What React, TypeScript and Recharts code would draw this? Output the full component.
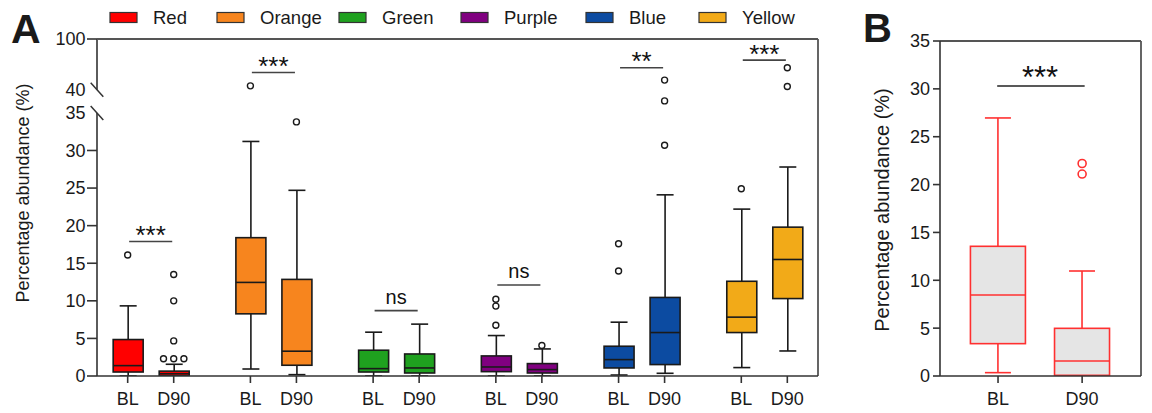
import React from "react";
import { Bar, ComposedChart, ReferenceLine, Scatter, XAxis, YAxis } from "recharts";

const CATEGORIES = ["Red", "Orange", "Green", "Purple", "Blue", "Yellow"];
const COLORS = ["#ff0000", "#f7851e", "#1fa11f", "#800080", "#0c4ba1", "#f2aa18"];
const TIMEPOINTS = ["BL", "D90"];

// five-number summaries [min, q1, median, q3, max]; first BL, then D90
const redStats = [[0, 0.53, 1.38, 4.85, 9.33], [0, 0.05, 0.3, 0.65, 1.56]];
const orangeStats = [[0.93, 8.27, 12.45, 18.4, 31.2], [0.18, 1.43, 3.3, 12.85, 24.7]];
const greenStats = [[0, 0.53, 0.98, 3.43, 5.83], [0, 0.4, 1.07, 2.93, 6.9]];
const purpleStats = [[0, 0.58, 1.2, 2.67, 5.38], [0, 0.4, 0.85, 1.65, 3.6]];
const blueStats = [[0.13, 1.07, 2.18, 3.96, 7.16], [0.36, 1.52, 5.78, 10.45, 24.1]];
const yellowStats = [[1.12, 5.78, 7.83, 12.6, 22.2], [3.33, 10.3, 15.5, 19.8, 27.8]];
const STATS_A = [redStats, orangeStats, greenStats, purpleStats, blueStats, yellowStats];

// outliers [value, spread]; spread is the sideways nudge Prism gives tied points
const redOut = [[[16.1, 0]], [[13.5, 0], [10, 0], [4.67, 0], [2.3, -0.083], [2.3, 0], [2.3, 0.083]]];
const orangeOut = [[[44.7, 0]], [[33.8, 0]]];
const greenOut = [[], []];
const purpleOut = [[[10.2, 0], [9.3, 0], [6.76, 0]], [[4.05, 0]]];
const blueOut = [[[17.6, 0], [13.96, 0]], [[51.5, 0], [37.6, 0], [30.7, 0]]];
const yellowOut = [[[24.9, 0]], [[66, 0], [43.9, 0]]];
const OUT_A = [redOut, orangeOut, greenOut, purpleOut, blueOut, yellowOut];

const SIG_A = ["***", "***", "ns", "ns", "**", "***"];
const SIG_A_Y = [17.9, 60.5, 8.7, 12.1, 66, 75.1];
const Y_TICKS_A = [0, 5, 10, 15, 20, 25, 30, 35, 40, 100];

// panel B
const statsB = [[0.35, 3.38, 8.46, 13.55, 26.96], [0, 0.07, 1.57, 4.98, 10.97]];
const outB = [[], [[22.2, 0], [21.1, 0]]];
const SIG_B = "***";
const SIG_B_Y = 30.3;
const Y_TICKS_B = [0, 5, 10, 15, 20, 25, 30, 35];

// broken axis: 0-35 linear, short gap to 40, then 40-100 compressed
const BREAK_LO = 35;
const BREAK_HI = 40;
const GAP = 3.067;
const UPPER = 0.1127;
const toAxis = (v: number) =>
  v <= BREAK_LO
    ? v
    : v <= BREAK_HI
    ? BREAK_LO + ((v - BREAK_LO) / (BREAK_HI - BREAK_LO)) * GAP
    : BREAK_LO + GAP + (v - BREAK_HI) * UPPER;

const PAIR = 0.375;
const X_MIN_A = -0.25;
const X_MAX_A = 5.625;
const X_MIN_B = -0.69;
const X_MAX_B = 1.7;

const boxDataA = STATS_A.flatMap((pair, g) =>
  pair.map((s, t) => ({
    pos: g + t * PAIR,
    range: [toAxis(s[0]), toAxis(s[4])],
    stats: s.map(toAxis),
    color: COLORS[g],
  }))
);
const outDataA = OUT_A.flatMap((pair, g) =>
  pair.flatMap((list, t) => list.map(([v, j]) => ({ pos: g + t * PAIR + j, val: toAxis(v) })))
);
const sigDataA = SIG_A.map((label, g) => ({ pos: g + PAIR / 2, val: toAxis(SIG_A_Y[g]), label }));
const xTicksA = CATEGORIES.flatMap((_, g) => TIMEPOINTS.map((_, t) => g + t * PAIR));

const boxDataB = statsB.map((s, t) => ({ pos: t, range: [s[0], s[4]], stats: s, color: "#e5e5e5" }));
const outDataB = outB.flatMap((list, t) => list.map(([v, j]) => ({ pos: t + j, val: v })));

const AXIS = "#333";
const FONT = "'Liberation Sans', Arial, sans-serif";

function boxShape(half: number, capHalf: number, stroke: string) {
  return (props: any) => {
    const { x, y, width, height, payload } = props;
    const [lo, q1, med, q3, hi] = payload.stats;
    const top = Math.min(y, y + height);
    const h = Math.abs(height);
    const py = (v: number) => (hi === lo ? top : top + (h * (hi - v)) / (hi - lo));
    const cx = x + width / 2;
    return (
      <g stroke={stroke} strokeWidth={1.6} fill="none">
        <line x1={cx} x2={cx} y1={py(hi)} y2={py(q3)} />
        <line x1={cx} x2={cx} y1={py(q1)} y2={py(lo)} />
        <line x1={cx - capHalf} x2={cx + capHalf} y1={py(hi)} y2={py(hi)} />
        <line x1={cx - capHalf} x2={cx + capHalf} y1={py(lo)} y2={py(lo)} />
        <rect x={cx - half} y={py(q3)} width={half * 2} height={Math.max(py(q1) - py(q3), 1)} fill={payload.color} />
        <line x1={cx - half} x2={cx + half} y1={py(med)} y2={py(med)} />
      </g>
    );
  };
}

const sigText = (size: number) => (props: any) => {
  const { cx, cy, payload } = props;
  const star = payload.label.includes("*");
  return (
    <text x={cx} y={cy + (star ? 2.5 : -7)} textAnchor="middle" fontSize={star ? size : 20} fill="#111">
      {payload.label}
    </text>
  );
};

const YTickA = (props: any) => {
  const { x, y, index } = props;
  const v = Y_TICKS_A[index];
  const ax = x + 10 + 1.5;
  const brk = v === BREAK_LO || v === BREAK_HI;
  return (
    <g>
      {brk ? (
        <line x1={ax - 6.3} y1={y - 7} x2={ax + 6.3} y2={y + 7} stroke={AXIS} strokeWidth={1.5} />
      ) : (
        <line x1={ax - 10} y1={y} x2={ax} y2={y} stroke={AXIS} strokeWidth={1.6} />
      )}
      <text x={x} y={y} dy="0.355em" textAnchor="end" fontSize={18} fill="#1a1a1a">
        {v}
      </text>
    </g>
  );
};

export default function App() {
  const legendX = [110, 217, 339, 461, 586, 699];
  return (
    <div style={{ position: "absolute", left: 0, top: 0, width: 1152, height: 413, background: "#fff", fontFamily: FONT }}>
      <div style={{ position: "absolute", left: 0, top: 0 }}>
        <ComposedChart width={830} height={413} data={boxDataA} margin={{ top: 39, right: 12, bottom: 7, left: 37 }}>
          <XAxis
            dataKey="pos"
            type="number"
            domain={[X_MIN_A, X_MAX_A]}
            ticks={xTicksA}
            interval={0}
            allowDataOverflow
            height={30}
            tickSize={7}
            tickMargin={9}
            stroke={AXIS}
            strokeWidth={1.6}
            tick={{ fontSize: 18, fill: "#1a1a1a" }}
            tickFormatter={(_v: number, i: number) => TIMEPOINTS[i % 2]}
          />
          <YAxis
            type="number"
            width={60}
            domain={[0, toAxis(100)]}
            ticks={Y_TICKS_A.map(toAxis)}
            interval={0}
            allowDataOverflow
            axisLine={false}
            tickLine={false}
            tickSize={10}
            tickMargin={1.5}
            tick={YTickA}
          />
          <ReferenceLine ifOverflow="visible" segment={[{ x: X_MIN_A, y: 0 }, { x: X_MIN_A, y: toAxis(BREAK_LO) }]} stroke={AXIS} strokeWidth={1.6} />
          <ReferenceLine ifOverflow="visible" segment={[{ x: X_MIN_A, y: toAxis(BREAK_HI) }, { x: X_MIN_A, y: toAxis(100) }]} stroke={AXIS} strokeWidth={1.6} />
          <ReferenceLine ifOverflow="visible" y={toAxis(100)} stroke="#555" strokeWidth={1.8} />
          <ReferenceLine ifOverflow="visible" x={X_MAX_A} stroke="#555" strokeWidth={1.8} />
          {sigDataA.map((s, g) => (
            <ReferenceLine
              key={g}
              ifOverflow="visible"
              segment={[{ x: g + 0.012, y: s.val }, { x: g + 0.363, y: s.val }]}
              stroke="#444"
              strokeWidth={1.6}
            />
          ))}
          <Bar dataKey="range" barSize={30} isAnimationActive={false} shape={boxShape(15, 8.5, "#1a1a1a")} />
          <Scatter
            data={outDataA}
            dataKey="val"
            isAnimationActive={false}
            shape={(p: any) => <circle cx={p.cx} cy={p.cy} r={3} fill="#fff" stroke="#1a1a1a" strokeWidth={1.4} />}
          />
          <Scatter data={sigDataA} dataKey="val" isAnimationActive={false} shape={sigText(26)} />
        </ComposedChart>
      </div>
      <div style={{ position: "absolute", left: 840, top: 0 }}>
        <ComposedChart width={312} height={413} data={boxDataB} margin={{ top: 41, right: 11, bottom: 7, left: 40 }}>
          <XAxis
            dataKey="pos"
            type="number"
            domain={[X_MIN_B, X_MAX_B]}
            ticks={[0, 1]}
            interval={0}
            allowDataOverflow
            height={30}
            tickSize={7}
            tickMargin={9}
            stroke={AXIS}
            strokeWidth={1.6}
            tick={{ fontSize: 18, fill: "#1a1a1a" }}
            tickFormatter={(_v: number, i: number) => TIMEPOINTS[i]}
          />
          <YAxis
            type="number"
            width={60}
            domain={[0, 35]}
            ticks={Y_TICKS_B}
            interval={0}
            allowDataOverflow
            stroke={AXIS}
            strokeWidth={1.6}
            tickSize={7}
            tickMargin={3}
            tick={{ fontSize: 18, fill: "#1a1a1a" }}
          />
          <ReferenceLine ifOverflow="visible" y={35} stroke="#555" strokeWidth={1.8} />
          <ReferenceLine ifOverflow="visible" x={X_MAX_B} stroke="#555" strokeWidth={1.8} />
          <ReferenceLine
            ifOverflow="visible"
            segment={[{ x: -0.01, y: SIG_B_Y }, { x: 1.03, y: SIG_B_Y }]}
            stroke="#222"
            strokeWidth={1.6}
          />
          <Bar dataKey="range" barSize={55} isAnimationActive={false} shape={boxShape(27.5, 13, "#ff3030")} />
          <Scatter
            data={outDataB}
            dataKey="val"
            isAnimationActive={false}
            shape={(p: any) => <circle cx={p.cx} cy={p.cy} r={4} fill="#fff" stroke="#ff3030" strokeWidth={1.6} />}
          />
          <Scatter
            data={[{ pos: 0.5, val: SIG_B_Y, label: SIG_B }]}
            dataKey="val"
            isAnimationActive={false}
            shape={sigText(31)}
          />
        </ComposedChart>
      </div>
      <svg width={1152} height={413} style={{ position: "absolute", left: 0, top: 0, pointerEvents: "none" }}>
        <text x={11} y={42.7} fontSize={41} fontWeight="bold" fill="#1a1a1a">A</text>
        <text x={863} y={41.7} fontSize={40} fontWeight="bold" fill="#1a1a1a">B</text>
        {CATEGORIES.map((c, i) => (
          <g key={c}>
            <rect x={legendX[i]} y={12.5} width={27} height={10} fill={COLORS[i]} stroke="#333" strokeWidth={1.2} />
            <text x={legendX[i] + 43} y={24} fontSize={18.5} fill="#1a1a1a">{c}</text>
          </g>
        ))}
        <text x={28.5} y={193} fontSize={18} fill="#1a1a1a" textAnchor="middle" transform="rotate(-90 28.5 193)">
          Percentage abundance (%)
        </text>
        <text x={889} y={210} fontSize={20} fill="#1a1a1a" textAnchor="middle" transform="rotate(-90 889 210)">
          Percentage abundance (%)
        </text>
      </svg>
    </div>
  );
}
